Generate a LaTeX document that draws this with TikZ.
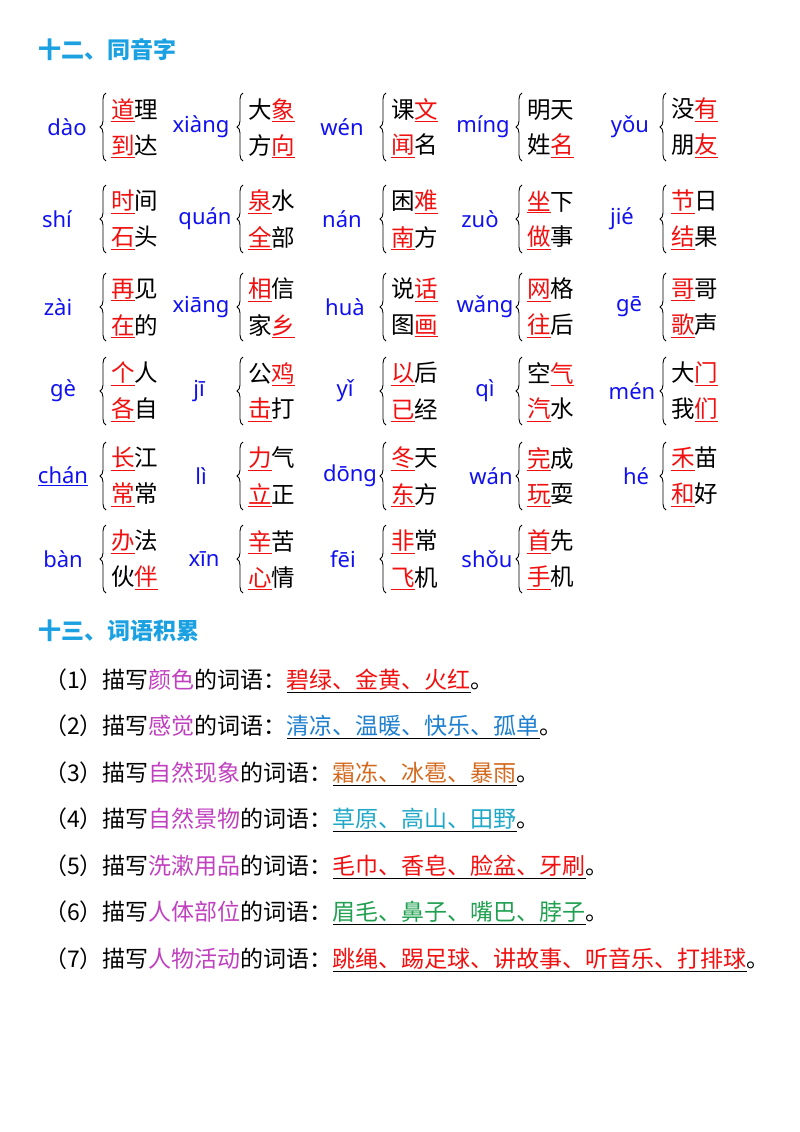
\documentclass[tikz,border=0pt]{standalone}
\usepackage{fontspec}
\setmainfont{Noto Sans CJK SC}
\newfontfamily\py{Noto Sans}
\usetikzlibrary{decorations.pathreplacing}
\definecolor{head}{HTML}{1BA1E2}
\definecolor{pyb}{HTML}{1010F0}
\definecolor{rd}{HTML}{F01010}
\definecolor{pur}{HTML}{C040C0}
\definecolor{bl}{HTML}{1E7FD0}
\definecolor{org}{HTML}{D2691E}
\definecolor{cy}{HTML}{20A8C8}
\definecolor{gr}{HTML}{20A050}
\newcommand{\rc}[1]{\textcolor{rd}{\underline{#1}}}
\newcommand{\uw}[2]{\underline{\textcolor{#1}{#2}}}
\tikzset{
  pin/.style={font=\py\fontsize{22}{26}\selectfont, text=pyb, inner sep=0},
  chr/.style={font=\fontsize{23.5}{27}\selectfont, anchor=west, inner sep=0},
  brc/.style={decorate, decoration={brace, amplitude=6pt}, line width=0.9pt},
  hd/.style={font=\bfseries\fontsize{23}{27}\selectfont, text=head, anchor=west, inner sep=0},
  ln/.style={font=\fontsize{23}{27}\selectfont, anchor=west, inner sep=0}
}
\newcommand{\grp}[7]{% name, pinx, bracex, y, pinyin, top, bottom
  \node[pin] (#1p) at (#2,#4) {#5};
  \coordinate (#1a) at (#3,#4+34);
  \coordinate (#1b) at (#3,#4-34);
  \draw[brc] (#1a) -- (#1b);
  \node[chr] (#1t) at (#3+5,#4-17) {#6};
  \node[chr] (#1u) at (#3+5,#4+19) {#7};
}
\begin{document}
\begin{tikzpicture}[x=1pt,y=-1pt]
\useasboundingbox (0,0) rectangle (800,1132);
\node[hd] (h1) at (38,50) {十二、同音字};
% row 1
\grp{a1}{67}{106}{127}{dào}{\rc{道}理}{\rc{到}达}
\grp{a2}{201}{243}{127}{xiàng}{大\rc{象}}{方\rc{向}}
\grp{a3}{342}{386}{127}{wén}{课\rc{文}}{\rc{闻}名}
\grp{a4}{483}{522}{127}{míng}{明天}{姓\rc{名}}
\grp{a5}{630}{666}{127}{yǒu}{没\rc{有}}{朋\rc{友}}
% row 2
\grp{b1}{57}{106}{219}{shí}{\rc{时}间}{\rc{石}头}
\grp{b2}{205}{243}{219}{quán}{\rc{泉}水}{\rc{全}部}
\grp{b3}{342}{386}{219}{nán}{困\rc{难}}{\rc{南}方}
\grp{b4}{480}{522}{219}{zuò}{\rc{坐}下}{\rc{做}事}
\grp{b5}{622}{666}{219}{jié}{\rc{节}日}{\rc{结}果}
% row 3
\grp{c1}{58}{106}{307}{zài}{\rc{再}见}{\rc{在}的}
\grp{c2}{201}{243}{307}{xiāng}{\rc{相}信}{家\rc{乡}}
\grp{c3}{345}{386}{307}{huà}{说\rc{话}}{图\rc{画}}
\grp{c4}{485}{522}{307}{wǎng}{\rc{网}格}{\rc{往}后}
\grp{c5}{629}{666}{307}{gē}{\rc{哥}哥}{\rc{歌}声}
% row 4
\grp{d1}{63}{106}{391}{gè}{\rc{个}人}{\rc{各}自}
\grp{d2}{199}{243}{391}{jī}{公\rc{鸡}}{\rc{击}打}
\grp{d3}{345}{386}{391}{yǐ}{\rc{以}后}{\rc{已}经}
\grp{d4}{485}{522}{391}{qì}{空\rc{气}}{\rc{汽}水}
\grp{d5}{632}{666}{391}{mén}{大\rc{门}}{我\rc{们}}
% row 5
\grp{e1}{63}{106}{476}{\underline{chán}}{\rc{长}江}{\rc{常}常}
\grp{e2}{201}{243}{476}{lì}{\rc{力}气}{\rc{立}正}
\grp{e3}{350}{386}{476}{dōng}{\rc{冬}天}{\rc{东}方}
\grp{e4}{491}{522}{476}{wán}{\rc{完}成}{\rc{玩}耍}
\grp{e5}{636}{666}{476}{hé}{\rc{禾}苗}{\rc{和}好}
% row 6
\grp{f1}{63}{106}{559}{bàn}{\rc{办}法}{伙\rc{伴}}
\grp{f2}{204}{243}{559}{xīn}{\rc{辛}苦}{\rc{心}情}
\grp{f3}{343}{386}{559}{fēi}{\rc{非}常}{\rc{飞}机}
\grp{f4}{487}{522}{559}{shǒu}{\rc{首}先}{\rc{手}机}
\node[hd] (h2) at (38,631) {十三、词语积累};
\node[ln] (l1) at (44,681) {（1）描写\textcolor{pur}{颜色}的词语：\uw{rd}{碧绿、金黄、火红}。};
\node[ln] (l2) at (44,727) {（2）描写\textcolor{pur}{感觉}的词语：\uw{bl}{清凉、温暖、快乐、孤单}。};
\node[ln] (l3) at (44,774) {（3）描写\textcolor{pur}{自然现象}的词语：\uw{org}{霜冻、冰雹、暴雨}。};
\node[ln] (l4) at (44,820) {（4）描写\textcolor{pur}{自然景物}的词语：\uw{cy}{草原、高山、田野}。};
\node[ln] (l5) at (44,867) {（5）描写\textcolor{pur}{洗漱用品}的词语：\uw{rd}{毛巾、香皂、脸盆、牙刷}。};
\node[ln] (l6) at (44,913) {（6）描写\textcolor{pur}{人体部位}的词语：\uw{gr}{眉毛、鼻子、嘴巴、脖子}。};
\node[ln] (l7) at (44,960) {（7）描写\textcolor{pur}{人物活动}的词语：\uw{rd}{跳绳、踢足球、讲故事、听音乐、打排球}。};
\end{tikzpicture}
\end{document}
